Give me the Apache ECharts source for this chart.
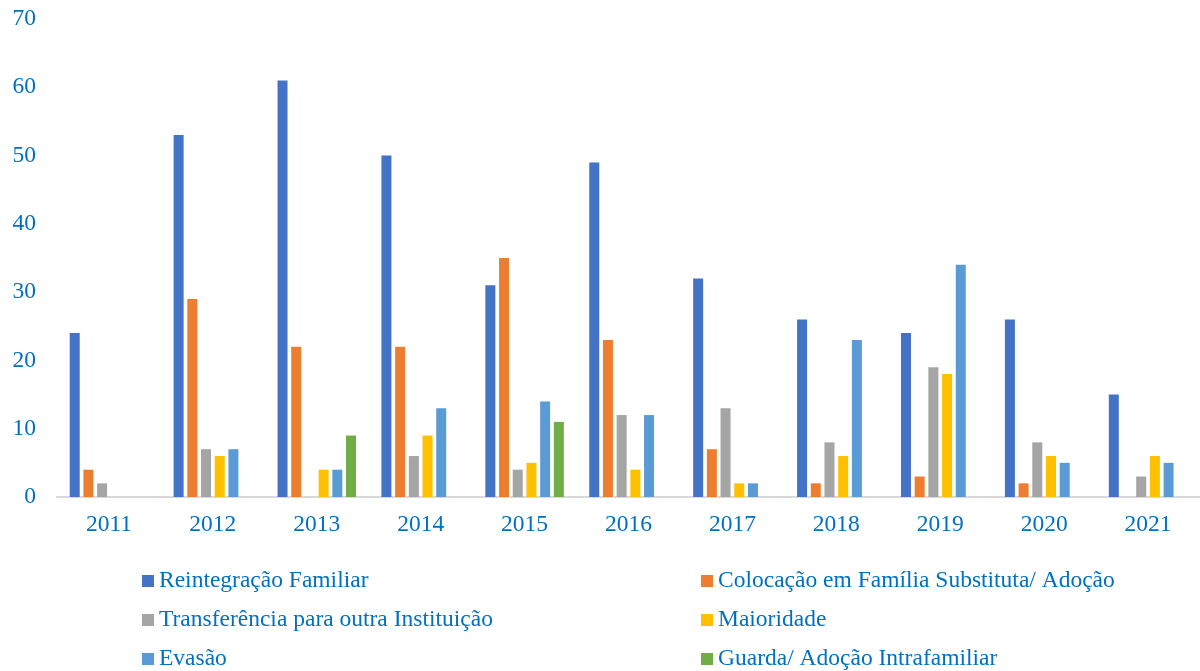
<!DOCTYPE html>
<html>
<head>
<meta charset="utf-8">
<script src="https://cdn.jsdelivr.net/npm/echarts@6/dist/echarts.min.js"></script>
<style>
  html, body { margin: 0; padding: 0; background: #fff; }
  #chart { width: 1200px; height: 671px; }
</style>
</head>
<body>
<div id="chart"></div>
<script>
// anos
const years = ['2011', '2012', '2013', '2014', '2015', '2016', '2017', '2018', '2019', '2020', '2021']

// motivos de desligamento
const reintegracao = [24, 53, 61, 50, 31, 49, 32, 26, 24, 26, 15]
const colocacao = [4, 29, 22, 22, 35, 23, 7, 2, 3, 2, 0]
const transferencia = [2, 7, 0, 6, 4, 12, 13, 8, 19, 8, 3]
const maioridade = [0, 6, 4, 9, 5, 4, 2, 6, 18, 6, 6]
const evasao = [0, 7, 4, 13, 14, 12, 2, 23, 34, 5, 5]
const guarda = [0, 0, 9, 0, 11, 0, 0, 0, 0, 0, 0]

const seriesNames = [
  'Reintegração Familiar',
  'Colocação em Família Substituta/ Adoção',
  'Transferência para outra Instituição',
  'Maioridade',
  'Evasão',
  'Guarda/ Adoção Intrafamiliar'
]
const seriesData = [reintegracao, colocacao, transferencia, maioridade, evasao, guarda]
const colors = ['#4472C4', '#ED7D31', '#A5A5A5', '#FFC000', '#5B9BD5', '#70AD47']

const font = "'Liberation Serif', 'Times New Roman', serif"
const textColor = '#0070C0'

const chart = echarts.init(document.getElementById('chart'))

const legendBase = {
  orient: 'vertical',
  top: 569,
  height: 110,
  padding: 0,
  icon: 'rect',
  itemWidth: 12,
  itemHeight: 12,
  itemGap: 15,
  selectedMode: false,
  textStyle: { color: textColor, fontFamily: font, fontSize: 23.5, lineHeight: 22 }
}

const option = {
  color: colors,
  animation: false,
  grid: { left: 57, right: 0, top: 19, bottom: 174, containLabel: false },
  legend: [
    Object.assign({}, legendBase, { left: 142, data: [seriesNames[0], seriesNames[2], seriesNames[4]] }),
    Object.assign({}, legendBase, { left: 701, data: [seriesNames[1], seriesNames[3], seriesNames[5]] })
  ],
  xAxis: {
    type: 'category',
    data: years,
    axisLine: { lineStyle: { color: '#d9d9d9', width: 2 } },
    axisTick: { show: false },
    axisLabel: { color: textColor, fontFamily: font, fontSize: 23.5, margin: 16 }
  },
  yAxis: {
    type: 'value',
    min: 0,
    max: 70,
    interval: 10,
    axisLine: { show: false },
    axisTick: { show: false },
    splitLine: { show: false },
    axisLabel: { color: textColor, fontFamily: font, fontSize: 23.5, margin: 21 }
  },
  series: seriesData.map((d, i) => ({
    name: seriesNames[i],
    type: 'bar',
    data: d,
    barWidth: 10,
    barGap: '37%'
  }))
}

chart.setOption(option)
</script>
</body>
</html>
